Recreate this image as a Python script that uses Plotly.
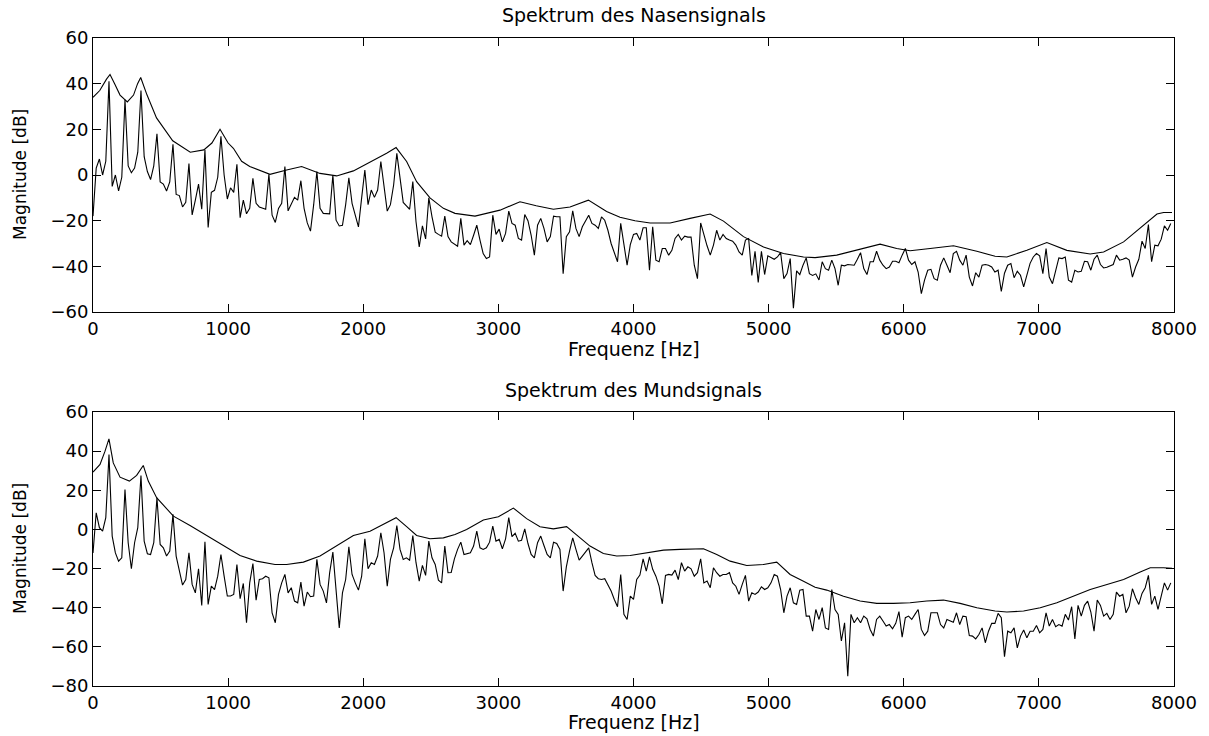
import numpy as np
import plotly.graph_objects as go

# ---------------- data ----------------
# magnitude spectra (dB), uniformly sampled from 0 Hz upward
nase_mag = [
    -18, 3, 7, 0, 6, 41, -5, 0, -7, -1,
    33, 4, 1, 3, 10, 37, 8, 1.5, -2, 4,
    18, -3, -4, -7, -3, 13.5, -8.5, -9, -14, -12,
    5, -17.5, -11, -4, -15, 11, -23, -7.6, -6.7, -1,
    17, 0, -10.5, -5.6, -7.6, 4.7, -18.7, -11, -17, -14.6,
    -1.5, -12.4, -14, -14.6, -15, 0.3, -17.6, -20.8,
    -14.6, -12.4, 3.7, -15.7, -13, -9.8, -11, -2.5, -14.6, -21,
    -24.6, -13, 1.5, -14.6, -16.8, -17, -17, 0, -19.8, -22.3,
    -22, -13, -1.2, -12.4, -17.6, -22.7, -10, 2.2, -13, -6.6,
    -9.8, -6.6, 5.9, -5.9, -15.8, -13, -4.4, 9.5, -0.7, -12,
    -13.5, -15, -2.9, -20.5, -31.5, -22.3, -28, -10, -18.3, -25,
    -26, -26.8, -18, -27,
    -29.3, -30.3, -31.2, -19, -30.7, -28.8, -30.5, -26.4, -22, -28.5,
    -34.4, -36.6, -35.9, -17.6, -26, -23.7, -29.3, -25.6, -15.8, -21.2,
    -22, -27.8, -28.5, -17.3, -20, -26.4, -35.1, -22, -19, -23.4,
    -29.3, -27, -18, -18.3, -18.3, -43.2, -27, -24.9, -15.7, -23.4,
    -27, -22.7, -19.8, -17.6, -21.2, -22, -23.4, -18.3, -19.8, -24.2,
    -30, -34.4, -38, -21.2, -30.7, -39.5,
    -30.5, -26, -25.6, -28.5, -23.1, -23.1, -41.7, -22.7, -37.3, -38,
    -32.2, -32.2, -35.1, -33, -27.8, -26, -28.5, -26.8, -27.2, -27.2,
    -39.5, -45.4, -21, -26.4, -31, -35.1, -30.7, -24.2, -28.5, -26,
    -27.8, -28.5, -29, -30.7, -33.7, -35.1, -28.5, -27.8, -44, -33.4,
    -47, -33.4, -43.6, -35.4, -36.3, -36.9, -35.9, -34, -45.4, -43.2,
    -36.6, -58.3, -42, -43.6, -39.5, -36.3, -43.2,
    -44, -43.3, -46, -38, -41, -41.7, -37.3, -41, -48.3, -39.5,
    -39.8, -39.2, -39.5, -39.5, -36.9, -34, -41, -43.6, -38, -38,
    -33.4, -37.3, -39.5, -41, -40.3, -37.8, -37.8, -38.4, -35.1, -32.2,
    -37.3, -39.2, -38, -42.5, -52, -46, -41.7, -41.3, -45.4, -46.1,
    -39.5, -36.3, -39.5, -42.8, -34.4, -33.4, -37.3, -39.5, -35.1, -44.7,
    -48.6, -42.8, -44.7, -39.5, -39.2, -39.5,
    -40.3, -42.5, -41.7, -51, -43, -39.5, -38.8, -45, -42.2, -43.9,
    -49, -43.9, -38.7, -35.9, -34.4, -35.4, -43.2, -32.2, -44.7, -47.6,
    -42.5, -36.3, -36.6, -35.9, -46.1, -46.9, -41.7, -42.5, -42.2, -37.8,
    -38, -41.7, -36.9, -35.1, -39.2, -40.7, -40.4, -39.8, -39.2, -35.1,
    -37.3, -36.9, -36.3, -37.3, -44.7, -40.3, -36.9, -29, -32.2, -21.7,
    -38, -30.7, -31, -28.1, -22.3, -24.2, -21.2,
]

mund_mag = [
    -12, 8.5, 0.9, -0.9, 6, 38.3, -3.4, -12, -16.2, -14.5,
    20.4, -6.8, -20.1, -6.8, 0.9, 27.6, -6, -12.4, -12.8, -6.8,
    16.2, -7.7, -9.4, -13.6, -11.1, 7.7, -13.6, -21.3, -28.4, -25.6,
    -11.9, -28.1, -32.4, -20.1, -38.8, -6.3, -38.3, -29, -30.7, -23.9,
    -12.8, -23.9, -34, -34, -33.2, -17.9, -35.4, -27.6, -47.7, -27.3,
    -17.4, -36.1, -25.6, -25.2, -23.9, -24.7, -42.6, -47.7,
    -33.2, -27.3, -23, -32.4, -29.8, -36.6, -37.5, -26.9, -39.2, -32,
    -34.4, -34, -15.3, -28.1, -31.5, -37.5, -22.1, -11.6, -30.7, -50.3,
    -32.4, -25.6, -8.9, -23, -27.3, -31, -23.9, -4.8, -20.1, -17,
    -17.9, -13.6, -1.7, -11.9, -29, -15.3, -9.4, 2, -10.2, -15.3,
    -14.5, -15.7, -3.1, -17, -26.4, -18.4, -23.5, -6, -14.5, -17.9,
    -25.9, -27.3, -8.5, -22.1,
    -22, -15, -10.2, -6.5, -12.8, -12.3, -11.9, -8.5, -0.9, -9.4,
    -10.2, -9.4, -6.5, 1.7, -6, -5.1, -9.9, -4.8, 6, -3.7,
    -2, -6, -5.5, 0.3, -7.2, -12.8, -14.5, -6.8, -3.4, -8.2,
    -12.8, -14.5, -6.5, -7.2, -10.2, -31.5, -19.1, -11.1, -4.3, -10.2,
    -15.7, -13.6, -11.6, -9.4, -17, -23.5, -25.2, -25.6, -25.2, -28.1,
    -31.5, -35.8, -39.5, -23, -43.4, -46,
    -34.1, -35.8, -25.6, -23.3, -15, -21.3, -14, -20.4, -23.9, -29,
    -38, -23.5, -23, -23.3, -20.8, -25.6, -17, -21.3, -19.1, -20.1,
    -23.9, -22.1, -15, -27.3, -26.4, -29.8, -19.6, -22.1, -23.9, -23,
    -23, -22.1, -27.3, -29, -33.2, -28.1, -23.5, -36.6, -32.4, -33.2,
    -32, -29.3, -30.7, -29.8, -27.3, -23, -23.9, -30.7, -42.6, -34.1,
    -29.8, -37.5, -38.3, -31, -30.7, -44.3, -44.3,
    -52, -40.9, -46, -40, -50.3, -51.1, -30.7, -40.9, -43.4, -57,
    -47.7, -75, -43.4, -47.7, -45.1, -47.7, -44.3, -45.7, -51.1, -54.5,
    -46, -44.3, -46.8, -49.4, -48.6, -50.8, -48, -42, -55, -45.1,
    -44.3, -46, -43.4, -40.9, -51.1, -54.2, -52, -42.6, -42.6, -42.6,
    -48.6, -50.3, -46, -46.8, -47.4, -42.6, -48.6, -44.3, -44.6, -54.2,
    -54.5, -55.9, -53.7, -50.3, -57.9, -52,
    -48, -48, -42.9, -45.1, -65, -52, -52.8, -50.3, -60.5, -54.5,
    -51.4, -55.4, -52, -52, -49.1, -52.8, -51.1, -42.6, -49.4, -46,
    -49.7, -48.6, -49.4, -43.4, -46.3, -39.5, -56, -38.8, -44.3, -38.8,
    -36.6, -42.2, -52, -36.1, -38.8, -44.3, -42.9, -46, -43.4, -32,
    -34.1, -33.2, -42.6, -39.2, -30.3, -34.9, -38.3, -32.7, -29.8, -23.5,
    -38.3, -34.1, -40.9, -34.1, -27.3, -31, -27.3,
]

# frequency resolution of the spectra (Hz per bin)
bin_hz = 8000 / 338

# smooth (LPC) envelopes
nase_env_f = [0, 50, 100, 126, 160, 200, 254, 300, 330, 353, 400, 470, 590, 720, 820,
              880, 940, 1000, 1039, 1100, 1160, 1280, 1310, 1433, 1544, 1680, 1803,
              1927, 2050, 2173, 2243, 2321, 2395, 2494, 2593, 2679, 2827, 3012, 3160,
              3280, 3407, 3530, 3666, 3801, 3900, 4011, 4123, 4271, 4419, 4567, 4666,
              4814, 4962, 5110, 5258, 5344, 5504, 5677, 5825, 5948, 6047, 6195, 6368,
              6541, 6676, 6763, 6911, 7059, 7207, 7380, 7479, 7627, 7750, 7874, 7923, 7985]
nase_env_db = [34, 37, 42, 44, 40, 35, 32, 35, 40, 42.7, 35, 25, 15, 10, 11,
               14, 20, 14, 11.7, 6, 3.7, 0.7, 0.3, 2.2, 3.7, 0.7, -0.4,
               1.8, 5.6, 9.5, 12, 5.9, -2.9, -10, -14.6, -16.8, -18, -15.4, -11.7,
               -13.5, -15, -14, -11, -16, -18.5, -20, -21, -21, -19, -17.1, -20.2,
               -27, -31.5, -34.4, -35.9, -36.2, -35.1, -32.5, -30.3, -32.2, -33.2, -32.2, -31,
               -33.4, -35.6, -35.9, -33, -29.6, -33, -34.6, -33.7, -29.3, -23.4, -17.1, -16.4, -16.4]

mund_env_f = [0, 52, 89, 118, 150, 200, 269, 323, 372, 409, 471, 595, 718, 841, 965,
              1088, 1211, 1347, 1433, 1557, 1680, 1803, 1927, 2050, 2149, 2243, 2321,
              2395, 2494, 2593, 2679, 2765, 2889, 3000, 3111, 3209, 3308, 3407, 3505,
              3604, 3678, 3777, 3876, 3975, 4098, 4222, 4345, 4518, 4616, 4715, 4838,
              4962, 5060, 5159, 5258, 5344, 5430, 5554, 5677, 5800, 5924, 6047, 6170,
              6294, 6417, 6541, 6676, 6763, 6887, 7010, 7133, 7257, 7380, 7504, 7627,
              7750, 7824, 7923, 7985]
mund_env_db = [29.3, 33.2, 40, 46.3, 34, 26.7, 24.7, 27.6, 32.7, 24.7, 16.2, 6.8, 2, -3.1, -8.5,
               -13.3, -16.2, -17.9, -17.9, -16.7, -13.6, -8.5, -3.1, -0.9, 2.6, 6, 1.4,
               -3.1, -4.8, -4.3, -2.6, 0, 4.8, 6.5, 10.9, 5.5, 1.4, 0.3, 1.4,
               -4.3, -8.5, -12.3, -13.6, -13.3, -11.9, -10.6, -10.2, -9.9, -12.8, -16.2, -18.4,
               -17.9, -16.7, -23, -26.5, -29.5, -31, -34.1, -36.6, -37.8, -37.8, -37.5, -36.6,
               -36.1, -37.8, -40, -41.7, -42.2, -41.7, -40, -37.5, -34.1, -30.7, -28.1, -25.6,
               -21.8, -19.6, -19.6, -19.9]

x_ticks = [0, 1000, 2000, 3000, 4000, 5000, 6000, 7000, 8000]
y_ticks_top = [-60, -40, -20, 0, 20, 40, 60]
y_ticks_bot = [-80, -60, -40, -20, 0, 20, 40, 60]
titles = ["Spektrum des Nasensignals", "Spektrum des Mundsignals"]
x_title = "Frequenz [Hz]"
y_title = "Magnitude [dB]"

# ---------------- figure ----------------
W, H = 1209, 736
PL, PR = 93, 1174            # plot area, page pixels
TOP1, BOT1 = 38, 312
TOP2, BOT2 = 412, 686
L, R, T, B = PL, W - PR, TOP1, H - BOT2
ph = H - T - B


def py(y_page):
    return (H - B - y_page) / ph


def px(x_page):
    return (x_page - L) / (W - L - R)


FONT = "DejaVu Sans, Liberation Sans, Arial, sans-serif"
line = dict(color="black", width=1.1)

f_n = np.arange(len(nase_mag)) * bin_hz
f_m = np.arange(len(mund_mag)) * bin_hz

fig = go.Figure()
fig.add_trace(go.Scatter(x=f_n, y=nase_mag, mode="lines", line=line, xaxis="x", yaxis="y"))
fig.add_trace(go.Scatter(x=nase_env_f, y=nase_env_db, mode="lines", line=line, xaxis="x", yaxis="y"))
fig.add_trace(go.Scatter(x=f_m, y=mund_mag, mode="lines", line=line, xaxis="x2", yaxis="y2"))
fig.add_trace(go.Scatter(x=mund_env_f, y=mund_env_db, mode="lines", line=line, xaxis="x2", yaxis="y2"))

axcommon = dict(showline=True, linecolor="black", linewidth=1, mirror="allticks",
                ticks="inside", ticklen=8, tickcolor="black", tickwidth=1,
                showgrid=False, zeroline=False,
                tickfont=dict(family=FONT, size=18, color="black"))

top_dom = [py(BOT1), py(TOP1)]
bot_dom = [py(BOT2), py(TOP2)]

fig.update_layout(
    width=W, height=H,
    margin=dict(l=L, r=R, t=T, b=B),
    paper_bgcolor="white", plot_bgcolor="white",
    showlegend=False,
    xaxis=dict(domain=[0, 1], anchor="y", range=[0, 8000], tickvals=x_ticks, **axcommon),
    yaxis=dict(domain=top_dom, anchor="x", range=[-60, 60], tickvals=y_ticks_top, **axcommon),
    xaxis2=dict(domain=[0, 1], anchor="y2", range=[0, 8000], tickvals=x_ticks, **axcommon),
    yaxis2=dict(domain=bot_dom, anchor="x2", range=[-80, 60], tickvals=y_ticks_bot, **axcommon),
)

ann_font = dict(family=FONT, size=19, color="black")
ylab_font = dict(family=FONT, size=17, color="black")
annotations = [
    dict(text=titles[0], x=0.5, y=py(15), xref="paper", yref="paper", showarrow=False,
         font=ann_font, xanchor="center", yanchor="middle"),
    dict(text=titles[1], x=0.5, y=py(390), xref="paper", yref="paper", showarrow=False,
         font=ann_font, xanchor="center", yanchor="middle"),
    dict(text=x_title, x=0.5, y=py(349), xref="paper", yref="paper", showarrow=False,
         font=ann_font, xanchor="center", yanchor="middle"),
    dict(text=x_title, x=0.5, y=py(722), xref="paper", yref="paper", showarrow=False,
         font=ann_font, xanchor="center", yanchor="middle"),
    dict(text=y_title, x=px(20), y=py(175), xref="paper", yref="paper", showarrow=False,
         font=ylab_font, textangle=-90, xanchor="center", yanchor="middle"),
    dict(text=y_title, x=px(20), y=py(549), xref="paper", yref="paper", showarrow=False,
         font=ylab_font, textangle=-90, xanchor="center", yanchor="middle"),
]
fig.update_layout(annotations=annotations)

# remove the browser's default page margin so the figure starts at the window corner
fig.write_html("out.html",
               config={"displayModeBar": False},
               post_script="document.body.style.margin='0';document.body.style.overflow='hidden';")
